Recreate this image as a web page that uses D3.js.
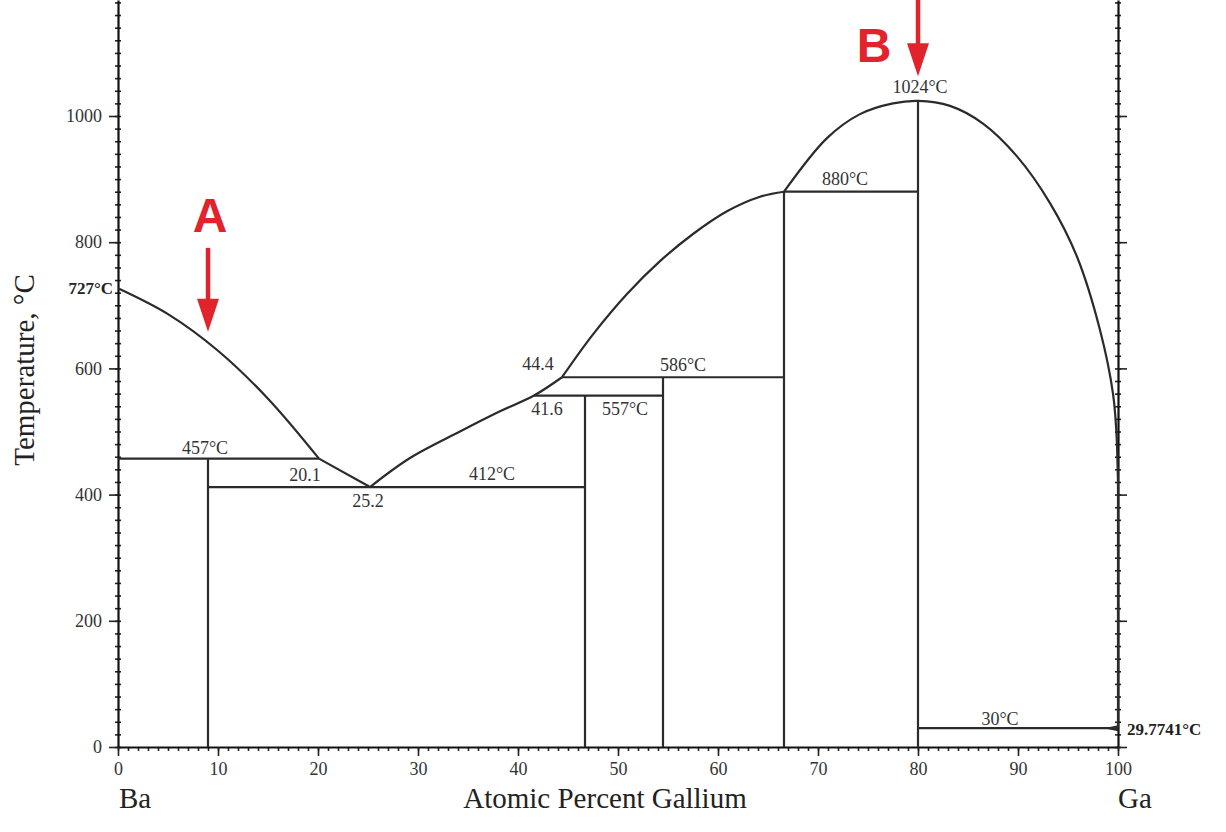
<!DOCTYPE html>
<html>
<head>
<meta charset="utf-8">
<script src="https://cdn.jsdelivr.net/npm/d3@7"></script>
<style>
	body { margin: 0; background: #fff; }
	svg { display: block; }
	.tick text { font-family: "Liberation Serif", "DejaVu Serif", serif; font-size: 18px; fill: #333; }
</style>
</head>
<body>
<svg width="1226" height="832"></svg>
<script>
// liquidus pieces, [at.% Ga, temperature °C]
const liqBaSide = [[0, 727], [5, 686], [10, 628], [15, 552], [20.1, 457]]
const liqEutectic = [[20.1, 457], [25.2, 412]]
const liqLow = [[25.2, 412], [29.2, 458], [34.2, 500], [38.2, 532], [41.6, 557], [44.4, 586]]
const liqMid = [[44.4, 586], [47.5, 654], [50.9, 718], [54.2, 770], [57.5, 813], [60.9, 849], [64.2, 872], [66.6, 880]]
const liqHigh = [[66.6, 880], [70.9, 965], [74.2, 1003], [77.5, 1020], [80, 1024], [83.2, 1016], [86.5, 988],
	[89.9, 936], [93.2, 862], [95.9, 777], [98.2, 661], [99.5, 560], [99.9, 480]]
const liqGaSide = [[99.9, 480], [100, 420], [100, 29.77]]

// invariant horizontal lines
const isotherms = [
	{ t: 457, from: 0, to: 20.1 },
	{ t: 412, from: 9.0, to: 46.7 },
	{ t: 557, from: 41.6, to: 54.5 },
	{ t: 586, from: 44.4, to: 66.6 },
	{ t: 880, from: 66.6, to: 80 },
	{ t: 29.77, from: 80, to: 100 },
]
// compound verticals
const compounds = [
	{ x: 9.0, top: 457 },
	{ x: 46.7, top: 557 },
	{ x: 54.5, top: 586 },
	{ x: 66.6, top: 880 },
	{ x: 80, top: 1024 },
]

// text labels, baseline position in data units
const notes = [
	{ text: "457°C", x: 8.7, t: 464 },
	{ text: "20.1", x: 18.7, t: 422 },
	{ text: "25.2", x: 25.0, t: 380 },
	{ text: "412°C", x: 37.4, t: 423 },
	{ text: "44.4", x: 42.0, t: 598 },
	{ text: "41.6", x: 42.9, t: 526 },
	{ text: "557°C", x: 50.7, t: 526 },
	{ text: "586°C", x: 56.5, t: 596 },
	{ text: "880°C", x: 72.7, t: 891 },
	{ text: "1024°C", x: 80.2, t: 1036 },
	{ text: "30°C", x: 88.2, t: 35 },
]
const boldNotes = [
	{ text: "727°C", x: -0.5, t: 718, anchor: "end" },
	{ text: "29.7741°C", x: 100.9, t: 19, anchor: "start" },
]

const xTicks = d3.range(0, 101, 10)
const yTicks = [0, 200, 400, 600, 800, 1000]

// red markers: letter, x, letter baseline, arrow top, arrow tip
const markers = [
	{ label: "A", x: 9.0, lx: 9.2, lt: 816, top: 791, tip: 658 },
	{ label: "B", x: 80, lx: 75.6, lt: 1086, top: 1190, tip: 1063 },
]

const svg = d3.select("svg")
const left = 118, right = 1118, bottom = 747

const x = d3.scaleLinear().domain([0, 100]).range([left, right])
const y = d3.scaleLinear().domain([0, 1000]).range([bottom, 116])
const yTop = y.invert(0)
const yFull = y.copy().domain([0, yTop]).range([bottom, 0])

const serif = '"Liberation Serif", "DejaVu Serif", serif'
const ink = "#2b2b2b"

// axes
const axes = svg.append("g")

axes.append("g")
	.attr("transform", `translate(${left + 3},0)`)
	.call(d3.axisLeft(yFull).tickValues(d3.range(0, yTop, 20)).tickSize(6).tickFormat(""))
	.call(g => g.select(".domain").remove())

axes.append("g")
	.attr("transform", `translate(${left},0)`)
	.call(d3.axisLeft(yFull).tickValues(yTicks).tickSizeInner(9).tickSizeOuter(0).tickPadding(7).tickFormat(d3.format("d")))

axes.append("g")
	.attr("transform", `translate(${right + 3},0)`)
	.call(d3.axisLeft(yFull).tickValues(d3.range(0, yTop, 20)).tickSize(6).tickFormat(""))
	.call(g => g.select(".domain").remove())

axes.append("g")
	.attr("transform", `translate(${right},0)`)
	.call(d3.axisRight(yFull).tickValues(yTicks).tickSizeInner(9).tickSizeOuter(0).tickFormat(""))

axes.append("g")
	.attr("transform", `translate(0,${bottom})`)
	.call(d3.axisBottom(x).tickValues(d3.range(0, 101, 1)).tickSize(4).tickFormat(""))
	.call(g => g.select(".domain").remove())

axes.append("g")
	.attr("transform", `translate(0,${bottom})`)
	.call(d3.axisBottom(x).tickValues(xTicks).tickSizeInner(9).tickSizeOuter(0).tickPadding(6))

axes.selectAll(".domain").attr("stroke", "#111").attr("stroke-width", 2.2)
axes.selectAll(".tick line").attr("stroke", "#222").attr("stroke-width", 1.6)

// diagram lines
const plot = svg.append("g").attr("fill", "none").attr("stroke", ink).attr("stroke-width", 2.2)

const smooth = d3.line().x(d => x(d[0])).y(d => y(d[1])).curve(d3.curveCatmullRom.alpha(0.5))
const straight = d3.line().x(d => x(d[0])).y(d => y(d[1]))

plot.selectAll("path.liq")
	.data([liqBaSide, liqLow, liqMid, liqHigh])
	.enter().append("path")
	.attr("d", smooth)
plot.append("path").attr("d", straight(liqEutectic))
plot.append("path").attr("d", straight(liqGaSide))

plot.selectAll("line.iso")
	.data(isotherms)
	.enter().append("line")
	.attr("x1", d => x(d.from)).attr("x2", d => x(d.to))
	.attr("y1", d => y(d.t)).attr("y2", d => y(d.t))

plot.selectAll("line.cmp")
	.data(compounds)
	.enter().append("line")
	.attr("x1", d => x(d.x)).attr("x2", d => x(d.x))
	.attr("y1", d => y(d.top)).attr("y2", y(0))

// little wedge where 30°C meets the Ga axis
plot.append("path")
	.attr("fill", ink).attr("stroke", "none")
	.attr("d", `M${x(98.6)},${y(29.77)} L${x(100)},${y(29.77) - 3} L${x(100)},${y(29.77) + 3}Z`)

// labels
svg.selectAll("text.note")
	.data(notes)
	.enter().append("text")
	.attr("x", d => x(d.x)).attr("y", d => y(d.t))
	.attr("text-anchor", "middle")
	.attr("font-family", serif).attr("font-size", 18).attr("fill", "#333")
	.text(d => d.text)

svg.selectAll("text.bold")
	.data(boldNotes)
	.enter().append("text")
	.attr("x", d => x(d.x)).attr("y", d => y(d.t))
	.attr("text-anchor", d => d.anchor)
	.attr("font-family", serif).attr("font-size", 17).attr("font-weight", "bold").attr("fill", "#222")
	.text(d => d.text)

// axis titles
svg.append("text")
	.attr("transform", "translate(34,370) rotate(-90)")
	.attr("text-anchor", "middle")
	.attr("font-family", serif).attr("font-size", 29).attr("fill", "#222")
	.text("Temperature, °C")

svg.append("text")
	.attr("x", 605).attr("y", 808)
	.attr("text-anchor", "middle")
	.attr("font-family", serif).attr("font-size", 29).attr("fill", "#222")
	.text("Atomic Percent Gallium")

svg.append("text")
	.attr("x", x(0) + 1).attr("y", 808)
	.attr("font-family", serif).attr("font-size", 29).attr("fill", "#222")
	.text("Ba")

svg.append("text")
	.attr("x", x(100)).attr("y", 808)
	.attr("font-family", serif).attr("font-size", 29).attr("fill", "#222")
	.text("Ga")

// red arrows
const red = "#e3232c"
const mk = svg.selectAll("g.marker").data(markers).enter().append("g")

mk.append("text")
	.attr("x", d => x(d.lx)).attr("y", d => y(d.lt))
	.attr("text-anchor", "middle")
	.attr("font-family", '"Liberation Sans", Arial, sans-serif')
	.attr("font-weight", "bold").attr("font-size", 48).attr("fill", red)
	.text(d => d.label)

mk.append("line")
	.attr("x1", d => x(d.x)).attr("x2", d => x(d.x))
	.attr("y1", d => y(d.top)).attr("y2", d => y(d.tip) - 26)
	.attr("stroke", red).attr("stroke-width", 4.5)

mk.append("path")
	.attr("fill", red)
	.attr("d", d => {
		const cx = x(d.x), ty = y(d.tip)
		return `M${cx - 11},${ty - 33} L${cx + 11},${ty - 33} L${cx},${ty} Z`
	})
</script>
</body>
</html>
